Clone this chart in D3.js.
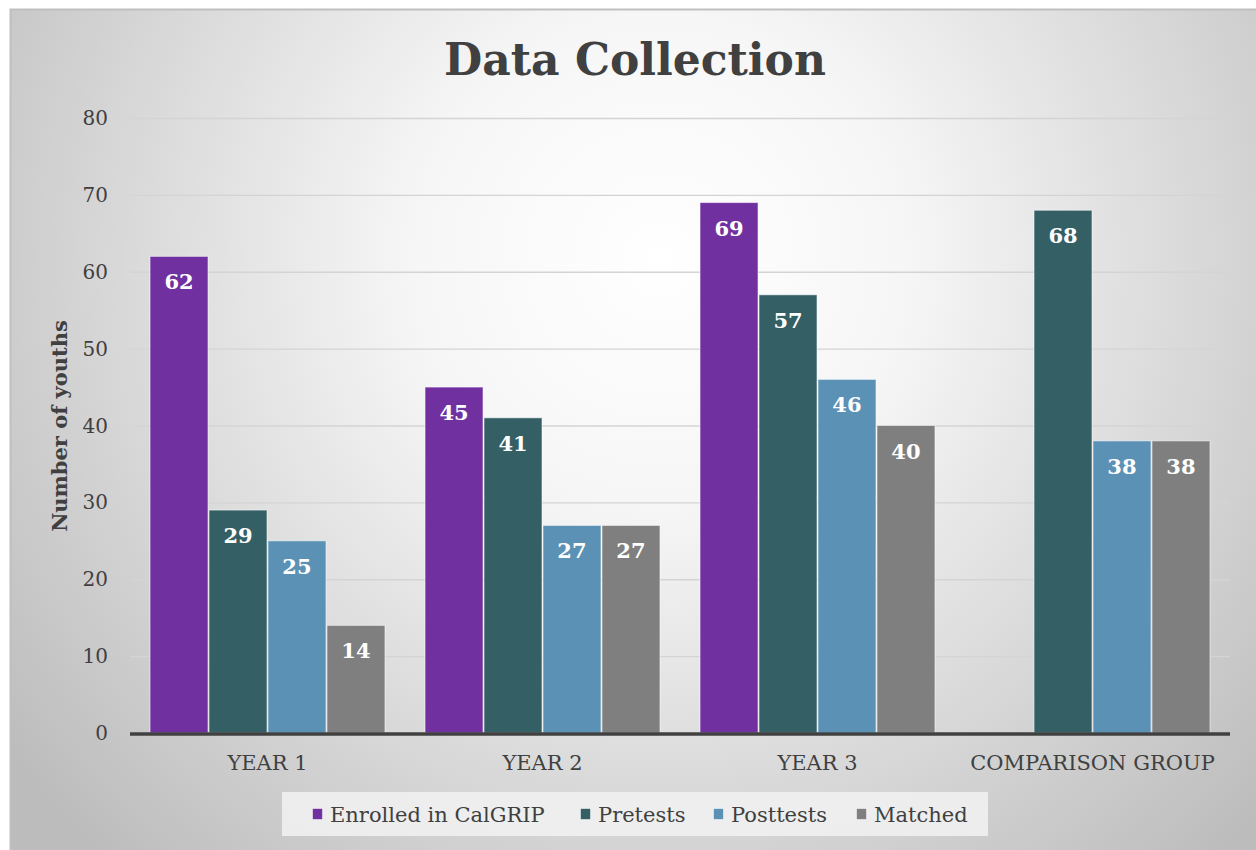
<!DOCTYPE html>
<html>
<head>
<script src="https://cdn.jsdelivr.net/npm/d3@7"></script>
<style>
  body { margin: 0; background: #fff; }
  text { font-family: "DejaVu Serif", Georgia, serif; }
</style>
</head>
<body>
<script>

var categories = ["YEAR 1", "YEAR 2", "YEAR 3", "COMPARISON GROUP"];
var seriesNames = ["Enrolled in CalGRIP", "Pretests", "Posttests", "Matched"];
var enrolled = [62, 45, 69, null];
var pretests = [29, 41, 57, 68];
var posttests = [25, 27, 46, 38];
var matched = [14, 27, 40, 38];
var yTicks = [0, 10, 20, 30, 40, 50, 60, 70, 80];
var colors = ["#7030a0", "#335f65", "#5b91b5", "#7f7f7f"];

var width = 1256, height = 850;
var plot = { left: 130, right: 1230, top: 118, bottom: 733 };

var series = [enrolled, pretests, posttests, matched];

var svg = d3.select("body").append("svg")
	.attr("width", width)
	.attr("height", height);

var defs = svg.append("defs");
var grad = defs.append("radialGradient")
	.attr("id", "bg")
	.attr("gradientUnits", "userSpaceOnUse")
	.attr("cx", 660).attr("cy", 260).attr("r", 820);
grad.append("stop").attr("offset", "0%").attr("stop-color", "#ffffff");
grad.append("stop").attr("offset", "30%").attr("stop-color", "#f6f6f6");
grad.append("stop").attr("offset", "100%").attr("stop-color", "#bcbcbc");

svg.append("rect")
	.attr("x", 10.5).attr("y", 9.5)
	.attr("width", width).attr("height", height)
	.attr("fill", "url(#bg)")
	.attr("stroke", "#bfbfbf")
	.attr("stroke-width", 2);

// title
svg.append("text")
	.attr("x", 635).attr("y", 75)
	.attr("text-anchor", "middle")
	.attr("font-size", 44)
	.attr("font-weight", "bold")
	.attr("fill", "#404040")
	.text("Data Collection");

var y = d3.scaleLinear().domain([0, 80]).range([plot.bottom, plot.top]);

var x0 = d3.scaleBand()
	.domain(categories)
	.range([plot.left, plot.right])
	.paddingInner(0.142)
	.paddingOuter(0.071);

var x1 = d3.scaleBand()
	.domain(d3.range(series.length))
	.range([0, x0.bandwidth()]);

// gridlines
svg.append("g").selectAll("line")
	.data(yTicks.filter(function(t) { return t > 0; }))
  .enter().append("line")
	.attr("x1", plot.left).attr("x2", plot.right)
	.attr("y1", function(d) { return y(d) + 0.5; })
	.attr("y2", function(d) { return y(d) + 0.5; })
	.attr("stroke", "#d4d4d4")
	.attr("stroke-width", 1.3);

// y tick labels
svg.append("g").selectAll("text")
	.data(yTicks)
  .enter().append("text")
	.attr("x", 108)
	.attr("y", function(d) { return y(d) + 7; })
	.attr("text-anchor", "end")
	.attr("font-size", 20)
	.attr("fill", "#404040")
	.text(function(d) { return d; });

// y axis title
svg.append("text")
	.attr("transform", "translate(67,426) rotate(-90)")
	.attr("text-anchor", "middle")
	.attr("font-size", 21)
	.attr("font-weight", "bold")
	.attr("fill", "#404040")
	.text("Number of youths");

// bars
var groups = svg.append("g").selectAll("g")
	.data(categories)
  .enter().append("g")
	.attr("transform", function(d) { return "translate(" + x0(d) + ",0)"; });

var cells = groups.selectAll("g")
	.data(function(d, i) {
		return series.map(function(s, k) { return { k: k, v: s[i] }; })
			.filter(function(c) { return c.v != null; });
	})
  .enter().append("g");

cells.append("rect")
	.attr("x", function(d) { return x1(d.k) + 0.5; })
	.attr("y", function(d) { return y(d.v); })
	.attr("width", x1.bandwidth() - 1)
	.attr("height", function(d) { return y(0) - y(d.v); })
	.attr("fill", function(d) { return colors[d.k]; })
	.attr("stroke", "rgba(255,255,255,0.55)")
	.attr("stroke-width", 1);

cells.append("text")
	.attr("x", function(d) { return x1(d.k) + x1.bandwidth() / 2; })
	.attr("y", function(d) { return y(d.v) + 33; })
	.attr("text-anchor", "middle")
	.attr("font-size", 21)
	.attr("font-weight", "bold")
	.attr("fill", "#ffffff")
	.text(function(d) { return d.v; });

// x axis line
svg.append("line")
	.attr("x1", plot.left).attr("x2", plot.right)
	.attr("y1", plot.bottom + 1).attr("y2", plot.bottom + 1)
	.attr("stroke", "#404040")
	.attr("stroke-width", 3.5);

// category labels
svg.append("g").selectAll("text")
	.data(categories)
  .enter().append("text")
	.attr("x", function(d) { return x0(d) + x0.bandwidth() / 2; })
	.attr("y", 770)
	.attr("text-anchor", "middle")
	.attr("font-size", 21)
	.attr("fill", "#404040")
	.text(function(d) { return d; });

// legend
svg.append("rect")
	.attr("x", 282).attr("y", 792)
	.attr("width", 706).attr("height", 44)
	.attr("fill", "#f2f2f2")
	.attr("opacity", 0.85);

var legendX = [312, 580, 713, 856];
var legend = svg.append("g").selectAll("g")
	.data(seriesNames)
  .enter().append("g")
	.attr("transform", function(d, i) { return "translate(" + legendX[i] + ",0)"; });

legend.append("rect")
	.attr("x", 0.5).attr("y", 808.5)
	.attr("width", 10).attr("height", 11)
	.attr("fill", function(d, i) { return colors[i]; })
	.attr("stroke", "rgba(255,255,255,0.5)");

legend.append("text")
	.attr("x", 18).attr("y", 822)
	.attr("font-size", 21)
	.attr("fill", "#404040")
	.text(function(d) { return d; });

</script>
</body>
</html>
